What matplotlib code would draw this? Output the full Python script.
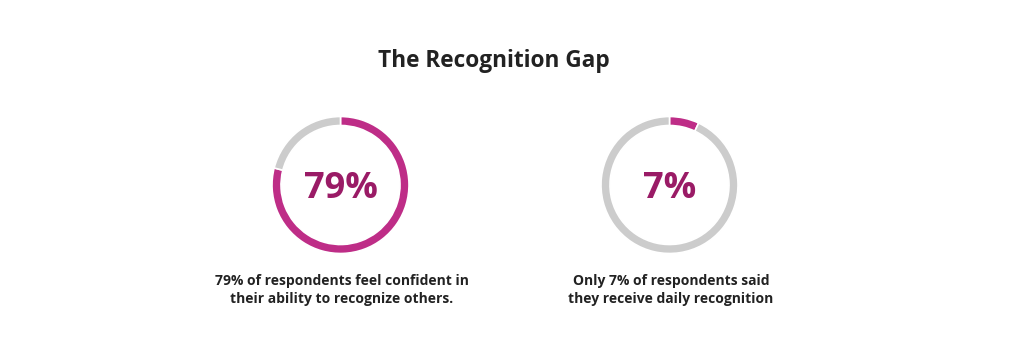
import matplotlib
matplotlib.use('Agg')
import matplotlib.pyplot as plt

plt.rcParams['font.family'] = ['Open Sans', 'DejaVu Sans']

# 数据
title = 'The Recognition Gap'
shares = [79, 7]
labels = ['79%', '7%']
captions = ['79% of respondents feel confident in\ntheir ability to recognize others.',
            'Only 7% of respondents said\nthey receive daily recognition']

magenta = '#BE2D87'
dark_magenta = '#9A1B66'
grey = '#CCCCCC'

W, H = 1024, 351
fig = plt.figure(figsize=(W / 100, H / 100), dpi=100)
ax = fig.add_axes([0, 0, 1, 1])

centers = [(340.5, H - 185), (669.5, H - 185)]

for share, label, caption, (cx, cy) in zip(shares, labels, captions, centers):
    ax.pie([share, 100 - share], colors=[magenta, grey], center=(cx, cy), radius=68.5,
           startangle=90, counterclock=False, frame=True,
           wedgeprops=dict(width=9, edgecolor='white', linewidth=1.2))
    ax.text(cx, cy - 4, label, ha='center', va='center', fontsize=26,
            fontweight='bold', color=dark_magenta)
    ax.text(cx + 1.5, H - 290, caption, ha='center', va='center', fontsize=10,
            fontweight='bold', color='#222222', linespacing=1.4)

ax.set_xlim(0, W)
ax.set_ylim(0, H)
ax.set_aspect('equal')
ax.axis('off')

fig.text(494 / W, 1 - 61 / H, title, ha='center', va='center', fontsize=16.3,
         fontweight='bold', color='#222222')

fig.savefig('out.png', dpi=100)
